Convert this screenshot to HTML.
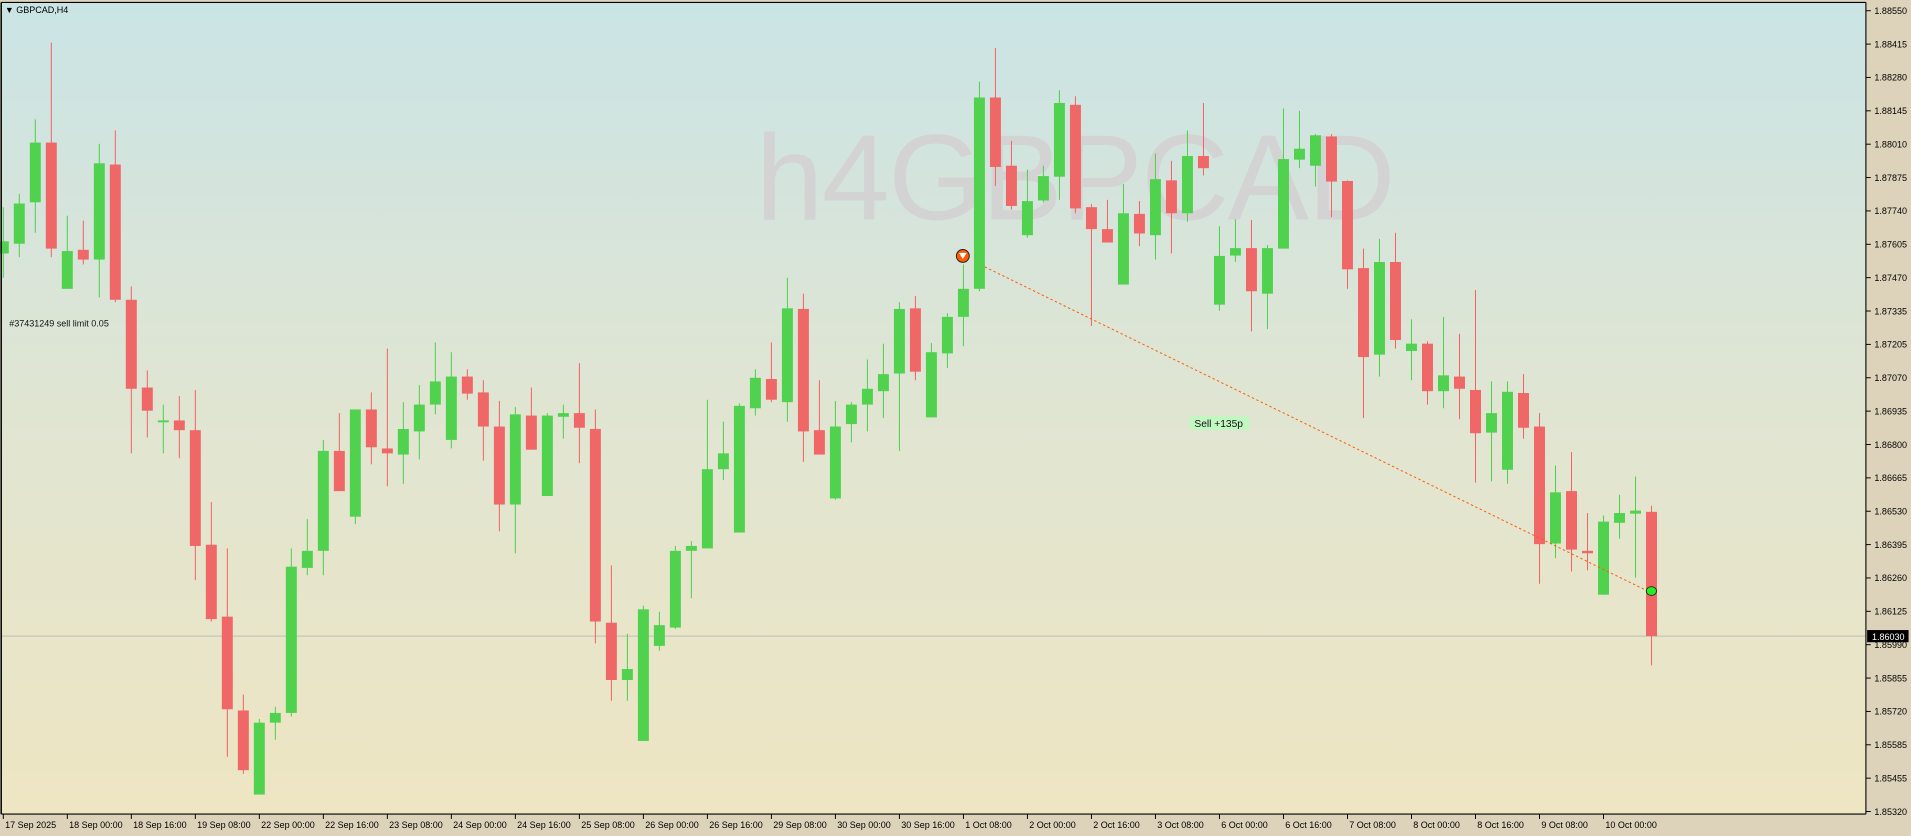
<!DOCTYPE html>
<html><head><meta charset="utf-8"><style>
html,body{margin:0;padding:0;background:#ddd3bb;overflow:hidden}
svg{display:block}
text{font-family:"Liberation Sans",sans-serif}
</style></head><body>
<svg id="s" width="1911" height="836" viewBox="0 0 1568 686" preserveAspectRatio="none" xmlns="http://www.w3.org/2000/svg">
<defs><linearGradient id="bg" x1="0" y1="0" x2="0" y2="1">
<stop offset="0" stop-color="#cae4e5"/><stop offset="0.5" stop-color="#e0e5d2"/><stop offset="1" stop-color="#eee5c2"/></linearGradient></defs>
<rect x="0" y="0" width="1568" height="686" fill="#ddd3bb"/>
<rect x="1" y="2" width="1530" height="666" fill="url(#bg)"/>
<text x="620" y="180" font-size="100" fill="#d3d3d3" textLength="525">h4GBPCAD</text>
<line x1="1" y1="522" x2="1531" y2="522" stroke="#bdbdbd" stroke-width="0.8"/>
<g id="c"></g>
<line x1="808" y1="219" x2="1352" y2="485" stroke="#ff5a00" stroke-width="0.8" stroke-dasharray="2,2"/>
<circle cx="790" cy="210" r="5.3" fill="#ff5a00" stroke="#222" stroke-width="0.8"/>
<path d="M786.8,207.5 L793.2,207.5 L790,212.5 Z" fill="#fff"/>
<ellipse cx="1355" cy="485" rx="4.2" ry="3.6" fill="#22ee22" stroke="#222" stroke-width="0.7"/>
<rect x="976" y="341.5" width="49" height="11.5" rx="2" fill="#c2f7c2"/>
<text x="980" y="350.5" font-size="8.4" fill="#111">Sell +135p</text>
<text x="7.6" y="268" font-size="7.4" fill="#111">#37431249 sell limit 0.05</text>
<text x="4" y="10.5" font-size="7.4" fill="#000">▼ GBPCAD,H4</text>
<line x1="1" y1="2" x2="1531" y2="2" stroke="#000" stroke-width="0.9"/>
<line x1="1" y1="2" x2="1" y2="668" stroke="#000" stroke-width="1.2"/>
<line x1="1531" y1="2" x2="1531" y2="668" stroke="#000" stroke-width="0.9"/>
<line x1="1" y1="668" x2="1531" y2="668" stroke="#000" stroke-width="0.9"/>
<g id="ax" font-size="7.4" fill="#000"></g>
<rect x="1532" y="517" width="34" height="10" fill="#000"/>
<text x="1536" y="525" font-size="7.4" fill="#fff">1.86030</text>
</svg>
<script>
var d=[
"g 198 208 170 228","g 167 200 159 211","g 117 166 98 191","r 117 204 35 211","g 206 237 177 237","r 205 213 181 217","g 134 213 118 244","r 135 246 107 248","r 246 319 235 372","r 318 337 304 359",
"g 345 346.5 332 372","r 345 353 325 376","r 353 448 320 476","r 447 508 412 510","r 506 582 450 621","r 583 632 570 635","g 593 652 590 652","g 585 593 580 607","g 465 585 450 588","g 452 466 426 472",
"g 370 452 361 472","r 370 403 339 403","g 336 424 336 430","r 336 367 322 381","r 368 372 286 399","g 352 373 330 397","g 332 354 316 377","g 313 332 281 340","g 309 361 289 368","r 309 323 303 328",
"r 322 350 312 378","r 350 414 329 436","g 340 414 334 454","r 341 369 318 369","g 341 407 339 407","g 339 342 332 360","r 339 351 298 380","r 352 510 336 528","r 511 558 464 575","g 549 558 520 575",
"g 500 608 497 608","g 513 530 502 534","g 452 515 448 516","g 448 452 444 491","g 385 450 328 450","g 372 385 346 394","g 333 437 331 437","g 310 335 303 341","r 311 328 281 330","g 253 330 228 346",
"r 253.5 354 241 379","r 353 373 312 373","g 350 409 329 410","g 332 348 330 363","g 319 332 295 354","g 307 321 282 343","g 253.5 306.5 248 370","r 253 305 243 312","g 289 342.5 281.5 342.5","g 260 290 257 302",
"g 237 260 217 284","g 80 237 67 239","r 80 137 39.5 152.6","r 136 169 115.5 172","g 165 193 139 195","g 144.5 164.5 136 166","g 84.5 145 74 164","r 86 171 79 175","r 170 188 167.5 267.5","r 188 199 164 199",
"g 175 233.5 151 233.5","r 175.5 191.6 165 202","g 147 193 126 213","r 148 175 132 208","g 128 175 107 182","r 128 138 84.5 144","g 210 250 185.6 255","g 203.6 209.7 180 215","r 203.6 239 180.5 272","g 203.6 241 201 270",
"g 130.5 204 89 204","g 122 131 91 138","g 111 136 110 153","r 112 149 110 178","r 148.5 221 148 237","r 220 293 204 343","g 215 291 196 309","r 215 279 191 286","g 282 288 262 312","r 282 321 280 332",
"g 308 321 260 335","r 309 319 274 344","r 320 355.5 238 396","g 339 355 313 395","g 321.5 385.5 313 397","r 322.5 351 307 360","r 350 446.5 339 479","g 404 446 382 458","r 403 451 371 469","r 452 454 421 468",
"g 428 488 423 488","g 421 429 406 442","g 419 421.5 391 474","r 420 522 415 546"];
var NS="http://www.w3.org/2000/svg",g=document.getElementById("c");
function el(t,a){var e=document.createElementNS(NS,t);for(var k in a)e.setAttribute(k,a[k]);return e;}
d.forEach(function(s,i){var p=s.split(" "),x=2.7+13.13*i,col=p[0]=="g"?"#50d24f":"#ef6767";
var bt=+p[1],bb=+p[2],wt=+p[3],wb=+p[4];if(bb-bt<1.2)bb=bt+1.2;
g.appendChild(el("rect",{x:x-0.42,y:wt,width:0.85,height:wb-wt,fill:col}));
g.appendChild(el("rect",{x:x-4.5,y:bt,width:9,height:bb-bt,fill:col}));});
var ax=document.getElementById("ax");
var pl=["1.88550","1.88415","1.88280","1.88145","1.88010","1.87875","1.87740","1.87605","1.87470","1.87335","1.87205","1.87070","1.86935","1.86800","1.86665","1.86530","1.86395","1.86260","1.86125","1.85990","1.85855","1.85720","1.85585","1.85455","1.85320"];
pl.forEach(function(t,k){var y=8.8+27.38*k;ax.appendChild(el("line",{x1:1531,y1:y,x2:1535,y2:y,stroke:"#000","stroke-width":0.8}));
var tx=el("text",{x:1538,y:y+2.7});tx.textContent=t;ax.appendChild(tx);});
var tl=["17 Sep 2025","18 Sep 00:00","18 Sep 16:00","19 Sep 08:00","22 Sep 00:00","22 Sep 16:00","23 Sep 08:00","24 Sep 00:00","24 Sep 16:00","25 Sep 08:00","26 Sep 00:00","26 Sep 16:00","29 Sep 08:00","30 Sep 00:00","30 Sep 16:00","1 Oct 08:00","2 Oct 00:00","2 Oct 16:00","3 Oct 08:00","6 Oct 00:00","6 Oct 16:00","7 Oct 08:00","8 Oct 00:00","8 Oct 16:00","9 Oct 08:00","10 Oct 00:00"];
tl.forEach(function(t,k){var x=2.7+52.52*k;ax.appendChild(el("line",{x1:x,y1:668,x2:x,y2:672,stroke:"#000","stroke-width":0.8}));
var tx=el("text",{x:x+1.5,y:679.5});tx.textContent=t;ax.appendChild(tx);});
</script>
</body></html>
